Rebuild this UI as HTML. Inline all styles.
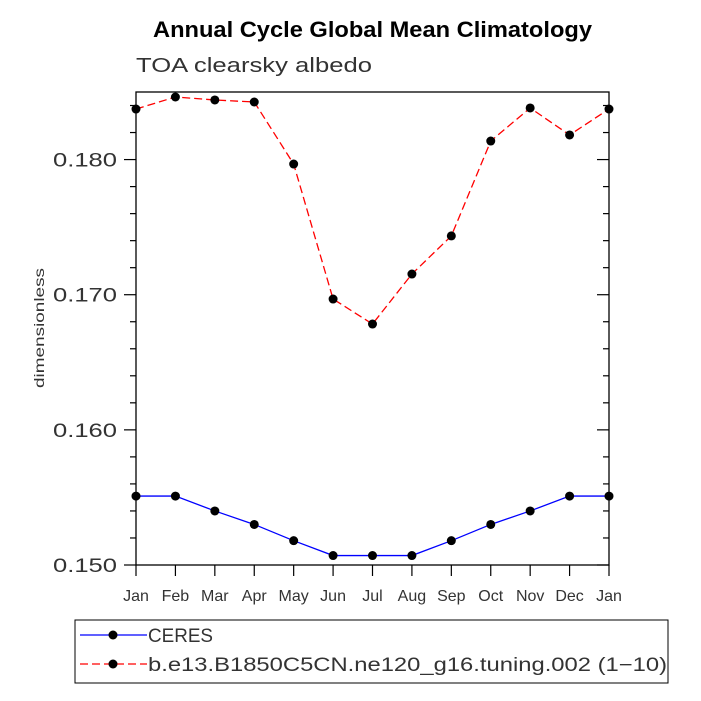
<!DOCTYPE html>
<html><head><meta charset="utf-8"><style>body{margin:0;background:#fff}svg{display:block}text{font-family:"Liberation Sans",sans-serif}</style></head>
<body>
<svg id="c" width="701" height="701" viewBox="0 0 701 701">
<text x="153" y="37" textLength="439" lengthAdjust="spacingAndGlyphs" font-size="22" font-weight="bold">Annual Cycle Global Mean Climatology</text>
<text x="136" y="72" textLength="236" lengthAdjust="spacingAndGlyphs" font-size="20" fill="#333">TOA clearsky albedo</text>
<text transform="translate(44,328) rotate(-90)" text-anchor="middle" font-size="14" fill="#333" textLength="120" lengthAdjust="spacingAndGlyphs">dimensionless</text>
<rect x="136" y="92" width="473" height="473" fill="none" stroke="#000" stroke-width="1.3"/>
<g id="axes"></g><g id="series"></g>
<rect x="75" y="620" width="593" height="63" fill="none" stroke="#000" stroke-width="1"/>
<g><line x1="80" y1="635" x2="147" y2="635" stroke="#00f" stroke-width="1.3"/><circle cx="113" cy="635" r="4.5"/><text x="148" y="642" font-size="19" fill="#333" textLength="65" lengthAdjust="spacingAndGlyphs">CERES</text></g>
<g><line x1="80" y1="664" x2="147" y2="664" stroke="#f00" stroke-width="1.3" stroke-dasharray="8,4"/><circle cx="113" cy="664" r="4.5"/><text x="148" y="671" font-size="19" fill="#333" textLength="519" lengthAdjust="spacingAndGlyphs">b.e13.B1850C5CN.ne120_g16.tuning.002 (1−10)</text></g>
</svg>
<script>
const months=["Jan","Feb","Mar","Apr","May","Jun","Jul","Aug","Sep","Oct","Nov","Dec","Jan"];
const ceres=[0.1551,0.1551,0.1540,0.1530,0.1518,0.1507,0.1507,0.1507,0.1518,0.1530,0.1540,0.1551,0.1551];
const model=[0.18374,0.18463,0.18441,0.18426,0.17967,0.16968,0.16783,0.17153,0.17435,0.18137,0.18382,0.18182,0.18374];
const yTicks=[0.150,0.160,0.170,0.180];
const yMin=0.150,yMax=0.185;
const X0=136,X1=609,Y0=565,Y1=92;
const ns="http://www.w3.org/2000/svg";
function sx(i){return X0+(X1-X0)*i/(months.length-1);}
function sy(v){return Y0-(v-yMin)/(yMax-yMin)*(Y0-Y1);}
function mk(t,a,p){const e=document.createElementNS(ns,t);for(const k in a)e.setAttribute(k,a[k]);p.appendChild(e);return e;}
const ax=document.getElementById('axes');
for(let v=yMin;v<=yMax+1e-9;v+=0.002){
 const y=sy(v);const major=yTicks.some(t=>Math.abs(t-v)<1e-9);
 const l=mk('line',{x1:X0-(major?12:6),x2:X0,y1:y,y2:y,stroke:'#000','stroke-width':1.2},ax);
 
 
 const r=mk('line',{x1:X1,x2:X1-(major?12:6),y1:y,y2:y,stroke:'#000','stroke-width':1.2},ax);
 
 
}
yTicks.forEach(v=>{const t=mk('text',{x:X0-19,y:sy(v)+7,'text-anchor':'end','font-size':19,fill:'#333',textLength:64,lengthAdjust:'spacingAndGlyphs'},ax);t.textContent=v.toFixed(3);
 
 });
months.forEach((m,i)=>{const x=sx(i);
 const l=mk('line',{x1:x,x2:x,y1:Y0,y2:Y0+11,stroke:'#000','stroke-width':1.2},ax);
 
 
 const t=mk('text',{x:x,y:Y0+36,'text-anchor':'middle','font-size':16,fill:'#333'},ax);t.textContent=m;
 
 });
const sg=document.getElementById('series');
function draw(vals,col,dash,name){
 const p=mk('polyline',{points:vals.map((v,i)=>sx(i)+','+sy(v)).join(' '),fill:'none',stroke:col,'stroke-width':1.3,'stroke-dasharray':dash},sg);
 
 
 vals.forEach((v,i)=>{const c=mk('circle',{cx:sx(i),cy:sy(v),r:4.5,fill:'#000'},sg);
 
 });
}
draw(ceres,'#00f','none','ceres');
draw(model,'#f00','8,4','model');
</script>
</body></html>
